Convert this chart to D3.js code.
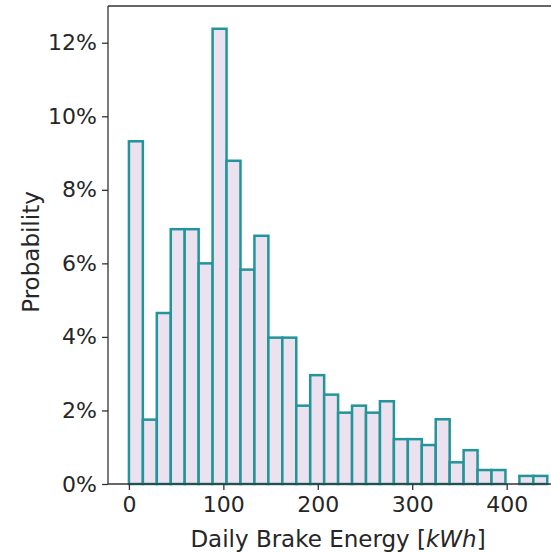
<!DOCTYPE html>
<html>
<head>
<meta charset="utf-8">
<script src="https://cdn.jsdelivr.net/npm/d3@7"></script>
<style>
  html, body { margin: 0; padding: 0; background: #fff; }
  svg { display: block; font-family: "DejaVu Sans", sans-serif; }
</style>
</head>
<body>
<svg id="chart" width="551" height="553"></svg>
<script>
// Histogram of daily brake energy: 30 equal bins from 0 to 443 kWh
const binStart = 0;
const binEnd = 443;
const binCount = 30;
// Share of days falling in each bin (fraction of total)
const probabilities = [
  0.0932, 0.0175, 0.0465, 0.0693, 0.0693, 0.0600, 0.1238, 0.0879, 0.0583, 0.0675,
  0.0398, 0.0398, 0.0213, 0.0296, 0.0243, 0.0194, 0.0213, 0.0194, 0.0225, 0.0122,
  0.0122, 0.0106, 0.0176, 0.0059, 0.0092, 0.0038, 0.0038, 0.0000, 0.0022, 0.0022
];
const xTicks = [0, 100, 200, 300, 400];
const yTicks = [0, 0.02, 0.04, 0.06, 0.08, 0.10, 0.12];
const xLabel = "Daily Brake Energy [";
const xLabelUnit = "kWh";
const yLabel = "Probability";

const binWidth = (binEnd - binStart) / binCount;
const bins = probabilities.map((p, i) => ({
  x0: binStart + i * binWidth,
  x1: binStart + (i + 1) * binWidth,
  p
}));

const svg = d3.select("#chart");
const plotLeft = 108, plotTop = 6, plotBottom = 484;
const pad = 0.05 * (binEnd - binStart);
const pxPerUnit = 0.9444;
const x = d3.scaleLinear()
  .domain([binStart - pad, binEnd + pad])
  .range([plotLeft, plotLeft + (binEnd - binStart + 2 * pad) * pxPerUnit]);
const yMax = d3.max(probabilities) * 1.05;
const y = d3.scaleLinear().domain([0, yMax]).range([plotBottom, plotTop]);

const textColor = "#262626";
const tickFont = "22px";
const labelFont = "23px";

// Bars
svg.append("g")
  .selectAll("rect")
  .data(bins.filter(d => d.p > 0))
  .join("rect")
  .attr("x", d => x(d.x0))
  .attr("y", d => y(d.p))
  .attr("width", d => x(d.x1) - x(d.x0))
  .attr("height", d => y(0) - y(d.p))
  .attr("fill", "#ebe1ef")
  .attr("stroke", "#22959a")
  .attr("stroke-width", 2.5);

// Axes
const xAxis = d3.axisBottom(x).tickValues(xTicks).tickSize(6).tickPadding(6)
  .tickFormat(d3.format("d"));
const gx = svg.append("g").attr("transform", `translate(0,${plotBottom})`).call(xAxis);
const yAxis = d3.axisLeft(y).tickValues(yTicks).tickSize(6).tickPadding(5)
  .tickFormat(d3.format(".0%"));
const gy = svg.append("g").attr("transform", `translate(${plotLeft},0)`).call(yAxis);

[gx, gy].forEach(g => {
  g.select(".domain").remove();
  g.selectAll(".tick line").attr("stroke", "#333").attr("stroke-width", 1.3);
  g.selectAll(".tick text")
    .attr("fill", textColor)
    .style("font-size", tickFont)
    .style("font-family", "'DejaVu Sans', sans-serif");
});

// Spines (left, bottom, top)
const rx1 = x.range()[1];
const spine = svg.append("g").attr("stroke", "#333").attr("stroke-width", 1.3).attr("fill", "none");
spine.append("line").attr("x1", plotLeft).attr("x2", plotLeft).attr("y1", plotTop).attr("y2", plotBottom);
spine.append("line").attr("x1", plotLeft).attr("x2", rx1).attr("y1", plotBottom).attr("y2", plotBottom);
spine.append("line").attr("x1", plotLeft).attr("x2", rx1).attr("y1", plotTop).attr("y2", plotTop);

// Axis titles
const xt = svg.append("text")
  .attr("x", 338)
  .attr("y", 547)
  .attr("text-anchor", "middle")
  .attr("fill", textColor)
  .style("font-size", labelFont);
xt.append("tspan").text(xLabel);
xt.append("tspan").style("font-style", "italic").text(xLabelUnit);
xt.append("tspan").text("]");

svg.append("text")
  .attr("transform", "translate(39,252) rotate(-90)")
  .attr("text-anchor", "middle")
  .attr("fill", textColor)
  .style("font-size", labelFont)
  .text(yLabel);
</script>
</body>
</html>
